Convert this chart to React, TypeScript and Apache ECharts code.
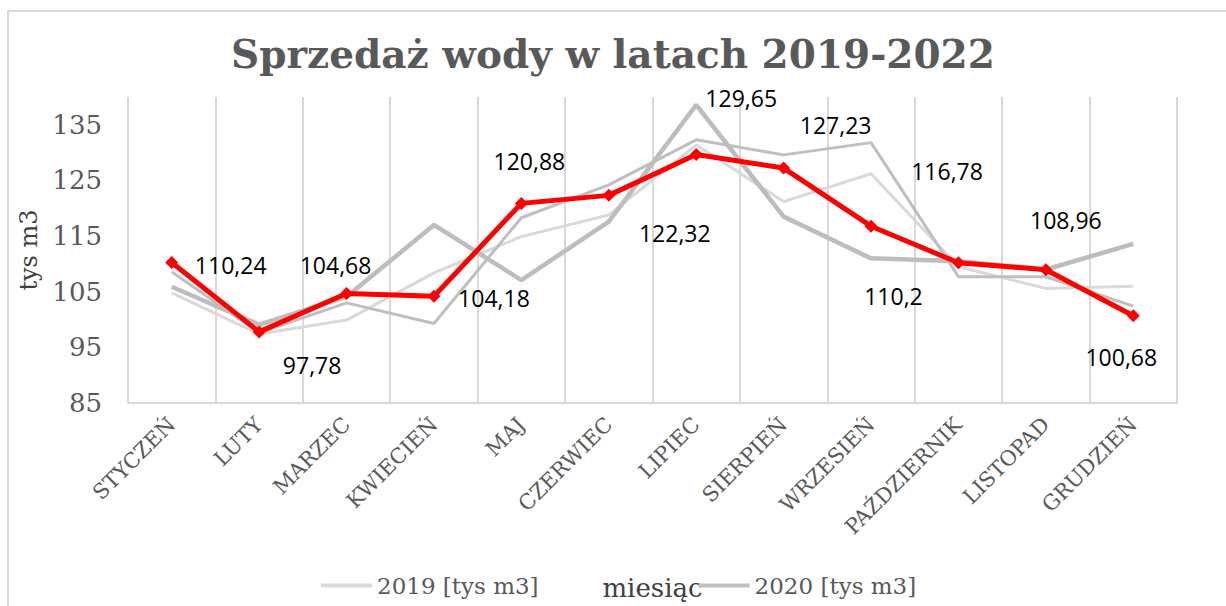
import React, { useEffect, useRef } from "react";
import * as echarts from "echarts";

const months = ["STYCZEŃ", "LUTY", "MARZEC", "KWIECIEŃ", "MAJ", "CZERWIEC", "LIPIEC", "SIERPIEŃ", "WRZESIEŃ", "PAŹDZIERNIK", "LISTOPAD", "GRUDZIEŃ"];
const s2019 = [104.8, 97.4, 99.9, 108.4, 114.9, 118.8, 131.4, 121.2, 126.2, 109.5, 105.6, 106.0];
const s2020 = [108.6, 97.6, 103.0, 99.3, 118.3, 124.2, 132.3, 129.6, 131.8, 107.7, 107.7, 102.4];
const s2021 = [105.9, 99.1, 104.1, 117.0, 107.1, 117.6, 138.6, 118.5, 111.0, 110.5, 109.0, 113.6];
const s2022 = [110.24, 97.78, 104.68, 104.18, 120.88, 122.32, 129.65, 127.23, 116.78, 110.2, 108.96, 100.68];
const seriesNames = ["2019 [tys m3]", "2020 [tys m3]", "2021 [tys m3]", "2022 [tys m3]"];
const yMin = 85;
const yMax = 140;
const yStep = 10;

// label placement (layout only): offset of label centre from its point, px
const labelOffsets: [number, number][] = [
  [59, 2], [53, 33], [-11, -29], [60, 2], [8, -42], [66, 38],
  [45, -57], [52, -43], [76, -55], [-65, 33], [20, -50], [-12, 41],
];

export default function App() {
  const ref = useRef<HTMLDivElement>(null);
  useEffect(() => {
    if (!ref.current) return;
    const chart = echarts.init(ref.current, undefined, { renderer: "svg" });
    const serif = "DejaVu Serif";
    chart.setOption({
      animation: false,
      backgroundColor: "#ffffff",
      title: {
        text: "Sprzedaż wody w latach 2019-2022",
        left: "center",
        top: 29,
        textStyle: { fontFamily: serif, fontWeight: "bold", fontSize: 39, color: "#595959" },
      },
      graphic: [
        {
          type: "rect",
          shape: { x: 8, y: 11, width: 1400, height: 800 },
          style: { fill: "none", stroke: "#d9d9d9", lineWidth: 2 },
          silent: true,
          z: -1,
        },
      ],
      legend: {
        data: seriesNames.slice(0, 2),
        left: 316,
        top: 569,
        itemGap: 160,
        icon: "rect",
        itemWidth: 51,
        itemHeight: 4,
        textStyle: { fontFamily: serif, fontSize: 23, color: "#595959" },
      },
      grid: { left: 128, right: 49, top: 97, bottom: 203, containLabel: false, outerBoundsMode: "none" },
      xAxis: {
        type: "category",
        data: months,
        boundaryGap: true,
        name: "miesiąc",
        nameLocation: "middle",
        nameGap: 172,
        nameTextStyle: { fontFamily: serif, fontSize: 26, color: "#404040" },
        axisLine: { lineStyle: { color: "#d9d9d9", width: 2 } },
        axisTick: { show: false },
        splitLine: { show: true, lineStyle: { color: "#d9d9d9", width: 2 } },
        axisLabel: { rotate: 45, margin: 18, interval: 0, fontFamily: serif, fontSize: 21, color: "#595959" },
      },
      yAxis: {
        type: "value",
        min: yMin,
        max: yMax,
        interval: yStep,
        name: "tys m3",
        nameLocation: "middle",
        nameRotate: 90,
        nameGap: 82,
        nameTextStyle: { fontFamily: serif, fontSize: 24, color: "#404040" },
        axisLine: { show: false },
        axisTick: { show: false },
        splitLine: { show: false },
        axisLabel: { showMaxLabel: false, margin: 26, fontFamily: serif, fontSize: 26, color: "#595959" },
      },
      series: [
        {
          name: seriesNames[0],
          type: "line",
          data: s2019,
          showSymbol: false,
          symbol: "none",
          lineStyle: { color: "#d9d9d9", width: 3 },
          itemStyle: { color: "#d9d9d9" },
          z: 2,
        },
        {
          name: seriesNames[1],
          type: "line",
          data: s2020,
          showSymbol: false,
          symbol: "none",
          lineStyle: { color: "#bfbfbf", width: 3 },
          itemStyle: { color: "#bfbfbf" },
          z: 3,
        },
        {
          name: seriesNames[2],
          type: "line",
          data: s2021,
          showSymbol: false,
          symbol: "none",
          lineStyle: { color: "#bdbdbd", width: 4.5 },
          itemStyle: { color: "#bdbdbd" },
          z: 4,
        },
        {
          name: seriesNames[3],
          type: "line",
          data: s2022.map((v, i) => ({
            value: v,
            label: { offset: labelOffsets[i] },
          })),
          symbol: "diamond",
          symbolSize: 13,
          lineStyle: { color: "#ff0000", width: 5 },
          itemStyle: { color: "#ff0000" },
          z: 10,
          label: {
            show: true,
            position: "inside",
            align: "center",
            verticalAlign: "middle",
            fontFamily: "Open Sans",
            fontSize: 23,
            color: "#000000",
            formatter: (p: any) => String(p.value).replace(".", ","),
          },
        },
      ],
    });
    return () => chart.dispose();
  }, []);
  return <div ref={ref} style={{ position: "fixed", left: 0, top: 0, width: 1226, height: 606 }} />;
}
